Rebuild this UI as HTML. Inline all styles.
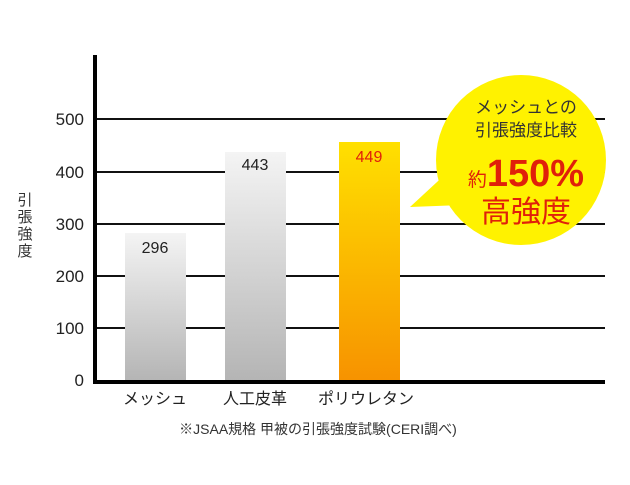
<!DOCTYPE html>
<html><head><meta charset="utf-8"><style>
body{margin:0;background:#fff;}
svg text{font-family:"Liberation Sans","Noto Sans CJK JP",sans-serif;}
</style></head><body>
<svg width="630" height="480" viewBox="0 0 630 480" xmlns="http://www.w3.org/2000/svg">
<defs>
<linearGradient id="g" x1="0" y1="0" x2="0" y2="1"><stop offset="0" stop-color="#f4f4f4"/><stop offset="1" stop-color="#b4b4b4"/></linearGradient>
<linearGradient id="o" x1="0" y1="0" x2="0" y2="1"><stop offset="0" stop-color="#ffe000"/><stop offset="1" stop-color="#f79200"/></linearGradient>
</defs>
<g stroke="#111" stroke-width="2">
<line x1="95" y1="119" x2="605" y2="119"/>
<line x1="95" y1="172" x2="605" y2="172"/>
<line x1="95" y1="224" x2="605" y2="224"/>
<line x1="95" y1="276" x2="605" y2="276"/>
<line x1="95" y1="328" x2="605" y2="328"/>
</g>
<rect x="125" y="233" width="61" height="149" fill="url(#g)"/>
<rect x="225" y="152" width="61" height="230" fill="url(#g)"/>
<rect x="339" y="142" width="61" height="240" fill="url(#o)"/>
<line x1="95" y1="55" x2="95" y2="384" stroke="#000" stroke-width="4"/>
<line x1="93" y1="382" x2="605" y2="382" stroke="#000" stroke-width="4"/>
<g font-size="17" fill="#222" text-anchor="end">
<text x="84" y="125">500</text><text x="84" y="178">400</text><text x="84" y="230">300</text>
<text x="84" y="282">200</text><text x="84" y="334">100</text><text x="84" y="386">0</text>
</g>
<g font-size="15" fill="#333" text-anchor="middle">
<text x="25" y="205">引</text><text x="25" y="222">張</text><text x="25" y="239">強</text><text x="25" y="256">度</text>
</g>
<g font-size="16" text-anchor="middle">
<text x="155" y="253" fill="#222">296</text>
<text x="255" y="170" fill="#222">443</text>
<text x="369" y="162" fill="#e0200a">449</text>
</g>
<g font-size="16" fill="#222" text-anchor="middle">
<text x="155" y="404">メッシュ</text><text x="255" y="404">人工皮革</text><text x="366" y="404">ポリウレタン</text>
</g>
<text x="318" y="434" font-size="14" fill="#333" text-anchor="middle">※JSAA規格 甲被の引張強度試験(CERI調べ)</text>
<polygon points="410,207 450,170 462,205" fill="#fff200"/>
<circle cx="521" cy="160" r="85" fill="#fff200"/>
<g text-anchor="middle" fill="#333" font-size="17">
<text x="526" y="113">メッシュとの</text>
<text x="526" y="136">引張強度比較</text>
</g>
<text x="526" y="186" text-anchor="middle" fill="#e0200a" font-weight="bold"><tspan font-size="19" font-weight="normal">約</tspan><tspan font-size="38">150%</tspan></text>
<text x="526" y="222" text-anchor="middle" fill="#e0200a" font-size="30">高強度</text>
</svg>
</body></html>
